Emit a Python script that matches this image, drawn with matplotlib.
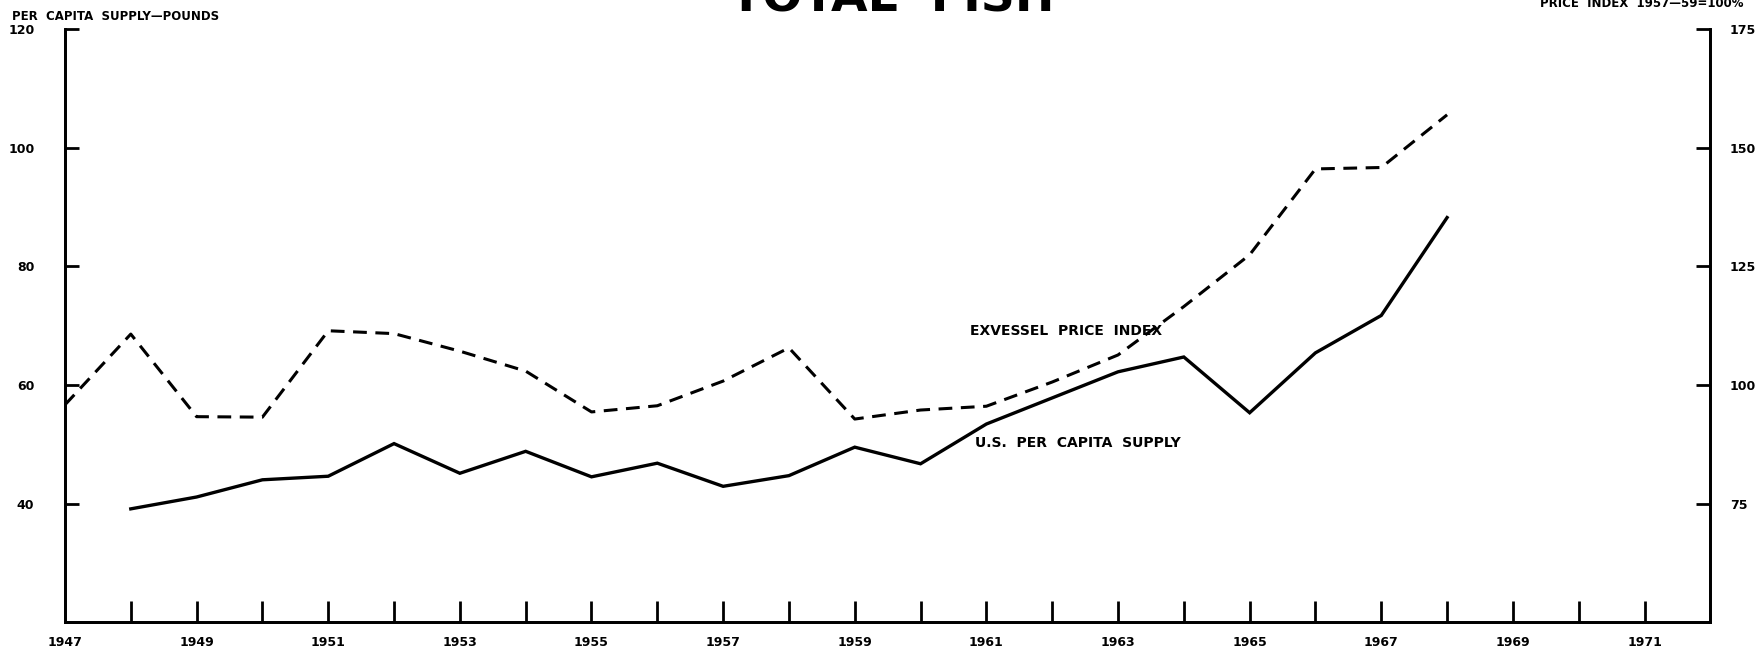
import matplotlib.pyplot as plt

plt.rcParams['font.family'] = ['Liberation Sans Narrow', 'DejaVu Sans']
plt.rcParams['font.weight'] = 'bold'

# U.S. per capita supply (pounds), 1948-1968
supply_years = list(range(1948, 1969))
supply = [39.1, 41.1, 44.0, 44.6, 50.1, 45.1, 48.8, 44.5, 46.8, 42.9, 44.7,
          49.5, 46.7, 53.4, 57.8, 62.2, 64.7, 55.3, 65.4, 71.7, 88.2]

# exvessel price index (1957-59=100%), 1947-1968
price_years = list(range(1947, 1969))
price = [95.8, 110.7, 93.3, 93.2, 111.4, 110.8, 107.1, 102.9, 94.3, 95.6, 100.8,
         107.8, 92.8, 94.7, 95.5, 100.6, 106.3, 116.5, 127.4, 145.5, 145.8, 156.9]

left_ticks = [40, 60, 80, 100, 120]
right_ticks = [75, 100, 125, 150, 175]
tick_years = list(range(1947, 1972))

fig = plt.figure(figsize=(17.56, 6.57), dpi=100)
ax = fig.add_axes([0.037, 0.053, 0.937, 0.903])
ax2 = ax.twinx()

ax.plot(supply_years, supply, color='black', lw=2.4, solid_joinstyle='miter')
ax2.plot(price_years, price, color='black', lw=2.2, dashes=(4.5, 2.8))

ax.set_xlim(1947, 1972)
ax.set_ylim(20, 120)
ax2.set_ylim(50, 175)

ax.set_yticks(left_ticks)
ax.set_yticklabels([str(t) for t in left_ticks], fontsize=9, fontweight='bold')
ax2.set_yticks(right_ticks)
ax2.set_yticklabels([str(t) for t in right_ticks], fontsize=9, fontweight='bold')

# tick mark every year, label on odd years only
ax.set_xticks(tick_years)
ax.set_xticklabels([str(y) if y % 2 == 1 else '' for y in tick_years],
                   fontsize=9, fontweight='bold')

ax.tick_params(axis='x', direction='in', length=15, width=2, pad=10)
ax.xaxis.get_major_ticks()[0].tick1line.set_visible(False)
ax.tick_params(axis='y', direction='in', length=10, width=2, pad=22)
ax2.tick_params(axis='y', direction='in', length=10, width=2, pad=14)

for a in (ax, ax2):
    a.spines['top'].set_visible(False)
    for s in ('left', 'right', 'bottom'):
        a.spines[s].set_linewidth(2)

ax.text(1960.75, 69, 'EXVESSEL  PRICE  INDEX', fontsize=10, fontweight='bold', va='center')
ax.text(1960.83, 50.2, 'U.S.  PER  CAPITA  SUPPLY', fontsize=10, fontweight='bold', va='center')

fig.text(0.007, 0.975, 'PER  CAPITA  SUPPLY—POUNDS', fontsize=8.5, fontweight='bold', va='center')
fig.text(0.993, 0.994, 'PRICE  INDEX  1957—59=100%', fontsize=8.5, fontweight='bold',
         va='center', ha='right')
fig.text(0.508, 0.982, 'TOTAL  FISH', fontsize=34, fontweight='bold', ha='center',
         va='baseline', family=['DejaVu Sans'])

fig.savefig('out.png', dpi=100, facecolor='white')
